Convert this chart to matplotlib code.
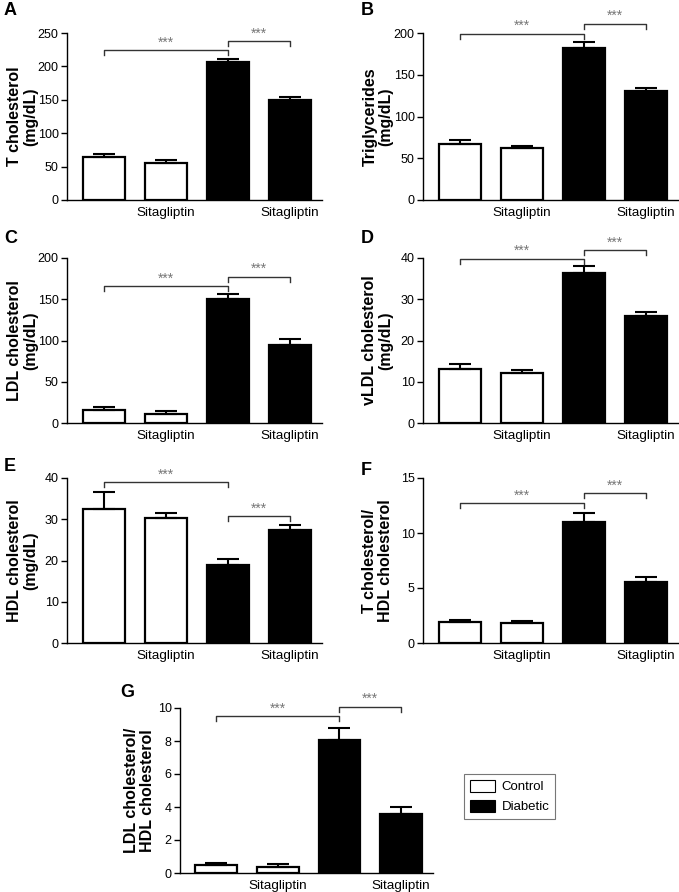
import numpy as np
import matplotlib
matplotlib.use("Agg")
import matplotlib.pyplot as plt
from matplotlib.patches import Patch

plt.rcParams['font.family'] = ['Liberation Sans', 'DejaVu Sans']

# Groups: Control, Control+Sitagliptin, Diabetic, Diabetic+Sitagliptin
xlabels = ["", "Sitagliptin", "", "Sitagliptin"]
colors = ["white", "white", "black", "black"]

tc_mean = [64, 55, 206, 149]
tc_err = [5, 4.5, 5, 5]
tg_mean = [67, 62, 182, 130]
tg_err = [5, 3, 7, 4]
ldl_mean = [15.4, 11.4, 150.5, 94.5]
ldl_err = [4, 3.5, 5.5, 7]
vldl_mean = [13.2, 12.2, 36.4, 26.0]
vldl_err = [1.0, 0.6, 1.7, 0.8]
hdl_mean = [32.5, 30.2, 18.8, 27.5]
hdl_err = [4.0, 1.2, 1.6, 1.0]
tchdl_mean = [1.88, 1.85, 11.0, 5.55]
tchdl_err = [0.18, 0.12, 0.85, 0.45]
ldlhdl_mean = [0.47, 0.39, 8.09, 3.57]
ldlhdl_err = [0.16, 0.14, 0.69, 0.43]

# (letter, ylabel, mean, err, ymax, yticks, bracket1 y, bracket2 y)
panels = [
    ("A", "T cholesterol\n(mg/dL)", tc_mean, tc_err, 250, [0, 50, 100, 150, 200, 250], 224, 237.5),
    ("B", "Triglycerides\n(mg/dL)", tg_mean, tg_err, 200, [0, 50, 100, 150, 200], 199, 211),
    ("C", "LDL cholesterol\n(mg/dL)", ldl_mean, ldl_err, 200, [0, 50, 100, 150, 200], 165.5, 177),
    ("D", "vLDL cholesterol\n(mg/dL)", vldl_mean, vldl_err, 40, [0, 10, 20, 30, 40], 39.8, 41.9),
    ("E", "HDL cholesterol\n(mg/dL)", hdl_mean, hdl_err, 40, [0, 10, 20, 30, 40], 39.0, 30.7),
    ("F", "T cholesterol/\nHDL cholesterol", tchdl_mean, tchdl_err, 15, [0, 5, 10, 15], 12.7, 13.6),
    ("G", "LDL cholesterol/\nHDL cholesterol", ldlhdl_mean, ldlhdl_err, 10, [0, 2, 4, 6, 8, 10], 9.49, 10.06),
]

W, H = 679, 892
# axes boxes in pixels: left, right, top, bottom, ylabel right edge x
boxes = [
    (67, 322, 33, 200, 38), (423, 678, 33, 200, 393),
    (67, 322, 258, 423, 38), (423, 678, 258, 423, 393),
    (67, 322, 478, 643, 38), (423, 678, 478, 643, 393),
    (180, 433, 708, 873, 155),
]
letter_pos = [(4, 2), (361, 2), (4, 230), (361, 230), (4, 458), (361, 462), (120, 684)]

fig = plt.figure(figsize=(W / 100, H / 100), dpi=100)

x = np.arange(4)
for (letter, ylab, mean, err, ymax, yt, b1, b2), box, lp in zip(panels, boxes, letter_pos):
    l, r, t, b, lx = box
    ax = fig.add_axes([l / W, 1 - b / H, (r - l) / W, (b - t) / H])
    ax.bar(x, mean, width=0.68, color=colors, edgecolor="black", linewidth=1.6, zorder=2)
    ax.errorbar(x, mean, yerr=[np.zeros(4), err], fmt="none", ecolor="black",
                elinewidth=1.5, capsize=8, capthick=1.5, zorder=3)
    ax.set_xlim(-0.59, 3.52)
    ax.set_ylim(0, ymax)
    ax.set_yticks(yt)
    ax.set_xticks(x)
    ax.set_xticklabels(xlabels, fontsize=9.7)
    ax.tick_params(axis="x", length=0, pad=5)
    ax.tick_params(axis="y", labelsize=9, length=4, width=1, pad=2)
    for s in ["top", "right"]:
        ax.spines[s].set_visible(False)
    for s in ["left", "bottom"]:
        ax.spines[s].set_linewidth(1)
    ax.set_ylabel(ylab, fontsize=11.5, fontweight="bold", linespacing=1.05)
    ax.yaxis.set_label_coords((lx - l) / (r - l), 0.5)

    # significance brackets
    dy = 0.03 * ymax
    for (x0, x1, yb) in [(0, 2, b1), (2, 3, b2)]:
        ax.plot([x0, x0, x1, x1], [yb - dy, yb, yb, yb - dy], color="#333333",
                linewidth=1.0, clip_on=False, zorder=4)
        ax.text((x0 + x1) / 2, yb + 0.005 * ymax, "***", ha="center", va="bottom",
                fontsize=10, color="#777777", clip_on=False)

    fig.text(lp[0] / W, 1 - lp[1] / H, letter, fontsize=13, fontweight="bold",
             ha="left", va="top")

handles = [Patch(facecolor="white", edgecolor="black", linewidth=0.8, label="Control"),
           Patch(facecolor="black", edgecolor="black", linewidth=0.8, label="Diabetic")]
leg = fig.legend(handles=handles, loc="upper left", bbox_to_anchor=(464 / W, 1 - 774 / H),
                 fontsize=9.5, frameon=True, fancybox=False, edgecolor="#555555",
                 handlelength=1.9, handleheight=1.0, borderpad=0.45, labelspacing=0.5,
                 handletextpad=0.5, borderaxespad=0)
leg.get_frame().set_linewidth(0.8)

fig.savefig("out.png", dpi=100)
